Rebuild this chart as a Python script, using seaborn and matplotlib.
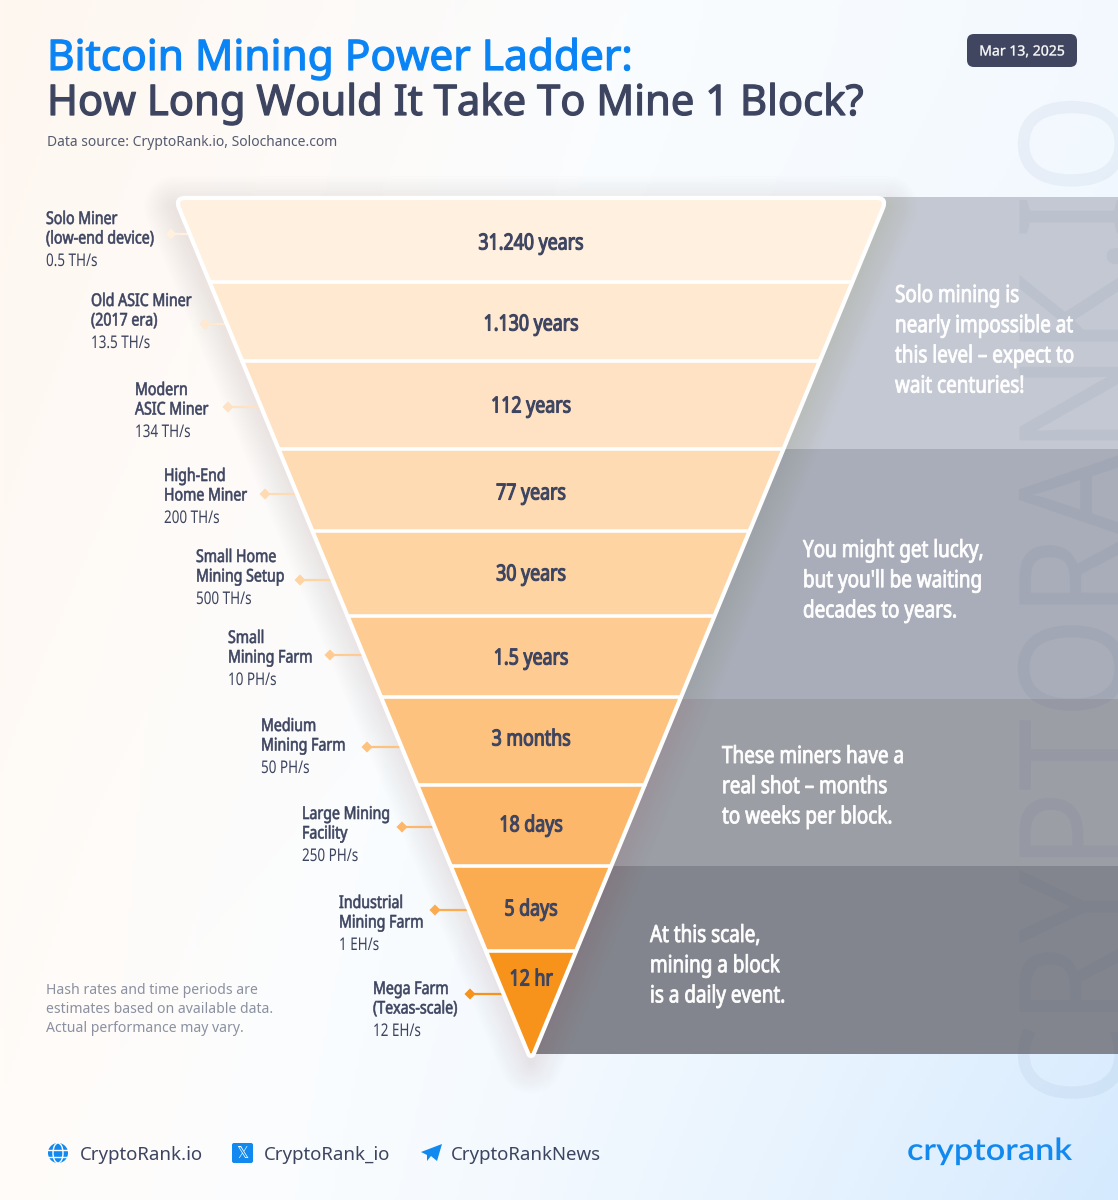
import numpy as np
import seaborn as sns
from matplotlib import pyplot as plt
from matplotlib import patheffects
from matplotlib.patches import Circle, Ellipse, FancyBboxPatch, PathPatch, Polygon
from matplotlib.path import Path
from matplotlib.transforms import Affine2D

# tiers, top of the funnel first
miners = ["Solo Miner\n(low-end device)", "Old ASIC Miner\n(2017 era)", "Modern\nASIC Miner",
          "High-End\nHome Miner", "Small Home\nMining Setup", "Small\nMining Farm",
          "Medium\nMining Farm", "Large Mining\nFacility", "Industrial\nMining Farm",
          "Mega Farm\n(Texas-scale)"]
hash_rates = ["0.5 TH/s", "13.5 TH/s", "134 TH/s", "200 TH/s", "500 TH/s",
              "10 PH/s", "50 PH/s", "250 PH/s", "1 EH/s", "12 EH/s"]
block_times = ["31.240 years", "1.130 years", "112 years", "77 years", "30 years",
               "1.5 years", "3 months", "18 days", "5 days", "12 hr"]
notes = ["Solo mining is\nnearly impossible at\nthis level – expect to\nwait centuries!",
         "You might get lucky,\nbut you'll be waiting\ndecades to years.",
         "These miners have a\nreal shot – months\nto weeks per block.",
         "At this scale,\nmining a block\nis a daily event."]
links = ["CryptoRank.io", "CryptoRank_io", "CryptoRankNews"]

# layout in pixels of the 1118x1200 canvas
tier_edges = [198, 282, 361, 449, 531, 616, 697, 785, 866, 951, 1054]
tier_colors = ["#FFF0DF", "#FFE9D1", "#FEE2C3", "#FEDBB3", "#FED4A3",
               "#FECC92", "#FDC27E", "#FDB76A", "#FCAC50", "#F7931A"]
time_y = [242, 323, 405, 492, 573, 657, 738, 824, 908, 978]
label_x = [46, 91, 135, 164, 196, 228, 261, 302, 339, 373]
label_y = [218, 300, 389, 475, 556, 637, 725, 813, 902, 988]
diamond_x = [171, 205, 228, 265, 300, 330, 367, 402, 435, 470]
diamond_y = [234, 324, 407, 494, 580, 655, 747, 827, 910, 994]
band_edges = [197, 449, 699, 866, 1054]
band_colors = ["#C4C8D2", "#A9ADB9", "#9C9EA6", "#82858D"]
note_x = [895, 803, 722, 650]
note_y = [294, 549, 755, 934]

CENTER = 531
TOP_HALF = 356
APEX = 1060
DARK = "#3D4460"
BLUE = "#0A84F5"


class Squeeze(patheffects.AbstractPathEffect):
    # the reference type is condensed and heavy, the Noto Sans installed here has neither
    def __init__(self, sx=1, center=False, bold=0):
        super().__init__()
        self.sx = sx
        self.center = center
        self.bold = bold

    def draw_path(self, renderer, gc, tpath, affine, rgbFace=None):
        mid = 0
        if self.center:
            ext = tpath.get_extents()
            mid = (ext.x0 + ext.x1) / 2
        squeeze = Affine2D().translate(-mid, 0).scale(self.sx, 1).translate(mid, 0)
        if self.bold:
            gc0 = renderer.new_gc()
            gc0.copy_properties(gc)
            gc0.set_linewidth(self.bold)
            gc0.set_foreground(rgbFace)
            renderer.draw_path(gc0, tpath, squeeze + affine, rgbFace)
            gc0.restore()
        else:
            renderer.draw_path(gc, tpath, squeeze + affine, rgbFace)


def half_width(y):
    return TOP_HALF * (APEX - np.asarray(y, dtype=float)) / (APEX - tier_edges[0])


def put_lines(ax, x, y, text, step, size, color, sx, bold=0):
    for i, line in enumerate(text.split("\n")):
        ax.text(x, y + i * step, line, fontsize=size, color=color, va="center", zorder=6,
                path_effects=[Squeeze(sx, bold=bold)])


sns.set_theme(style="white")
plt.rcParams["font.family"] = ["Noto Sans", "DejaVu Sans"]

fig, ax = plt.subplots(figsize=(11.18, 12), dpi=100)
fig.subplots_adjust(left=0, right=1, bottom=0, top=1)
ax.set_xlim(0, 1118)
ax.set_ylim(1200, 0)
ax.axis("off")

# soft page background
gx, gy = np.meshgrid(np.linspace(0, 1, 280), np.linspace(0, 1, 300))
cream = np.clip(1 - (gx + 0.35 * gy) / 0.6, 0, 1)
sky = np.clip(gx ** 1.6 * (0.3 + 0.7 * gy ** 1.5), 0, 1)
bg = np.ones(gx.shape + (3,))
bg[..., 0] -= sky * 42 / 255
bg[..., 1] -= cream * 8 / 255 + sky * 21 / 255
bg[..., 2] -= cream * 15 / 255 + sky * 1 / 255
ax.imshow(bg, extent=(0, 1118, 1200, 0), aspect="auto", zorder=0)

# grey bands behind the funnel
for i, color in enumerate(band_colors):
    ax.fill_between([CENTER, 1118], band_edges[i], band_edges[i + 1], color=color, lw=0, zorder=1)

# watermark
ax.text(1086, 600, "CRYPTORANK.IO", rotation=90, fontsize=106, color="#2F4F80", alpha=0.055,
        ha="center", va="center", zorder=2, clip_on=True, path_effects=[Squeeze(0.884, center=True)])

# funnel outline with rounded corners, shadow first
top = tier_edges[0]
tl = CENTER - TOP_HALF
tr = CENTER + TOP_HALF
outline = Path([(tl + 10, top), (tr - 10, top), (tr, top), (tr - 4, top + 10), (CENTER + 2.2, 1055),
                (CENTER, 1057), (CENTER - 2.2, 1055), (tl + 4, top + 10), (tl, top), (tl + 10, top), (tl + 10, top)],
               [Path.MOVETO, Path.LINETO, Path.CURVE3, Path.CURVE3, Path.LINETO,
                Path.CURVE3, Path.CURVE3, Path.LINETO, Path.CURVE3, Path.CURVE3, Path.CLOSEPOLY])
ax.add_patch(PathPatch(outline, fc="white", lw=0, zorder=2))
out_x = [tl, tr, CENTER, tl]
out_y = np.array([top, top, 1054, top]) + 9
for w in range(4, 48, 4):
    sns.lineplot(x=out_x, y=out_y, sort=False, estimator=None, ax=ax, color="#9A7A5A",
                 lw=w, alpha=0.010, zorder=2, solid_joinstyle="round", legend=False)

rim = PathPatch(outline, fc="none", ec="white", lw=3, zorder=4, joinstyle="round")
ax.add_patch(rim)
for i, color in enumerate(tier_colors):
    ys = np.array(tier_edges[i:i + 2], dtype=float)
    fill = ax.fill_betweenx(ys, CENTER - half_width(ys), CENTER + half_width(ys), color=color, lw=0, zorder=3)
    fill.set_clip_path(rim.get_path(), rim.get_transform())

# white separators
for y in tier_edges[1:-1]:
    sns.lineplot(x=[CENTER - half_width(y), CENTER + half_width(y)], y=[y, y], ax=ax, color="white",
                 lw=2.6, zorder=4, legend=False)

# leader lines with a diamond, and the left labels
for i in range(len(miners)):
    end = CENTER - half_width(diamond_y[i])
    sns.lineplot(x=[diamond_x[i], end], y=[diamond_y[i], diamond_y[i]], ax=ax, color=tier_colors[i],
                 lw=1.6, zorder=3, legend=False)
sns.scatterplot(x=diamond_x, y=diamond_y, hue=miners, palette=tier_colors, marker="D", s=32,
                linewidth=0, ax=ax, legend=False, zorder=5)

for i, name in enumerate(miners):
    put_lines(ax, label_x[i], label_y[i] + 1, name, 19.5, 12.6, DARK, 0.81, bold=0.45)
    put_lines(ax, label_x[i], label_y[i] + 43, hash_rates[i], 0, 12.6, DARK, 0.77)
    ax.text(CENTER, time_y[i] + 2, block_times[i], fontsize=16, color=DARK, ha="center", va="center",
            zorder=6, path_effects=[Squeeze(0.8, center=True, bold=0.8)])

for i, note in enumerate(notes):
    put_lines(ax, note_x[i], note_y[i] + 2, note, 30.2, 17, "white", 0.8, bold=0.6)

# header
ax.text(47, 59, "Bitcoin Mining Power Ladder:", fontsize=30.4, color=BLUE, va="center", zorder=6,
        path_effects=[Squeeze(1.004, bold=0.9)])
ax.text(47, 104, "How Long Would It Take To Mine 1 Block?", fontsize=30.4, color=DARK, va="center", zorder=6,
        path_effects=[Squeeze(0.989, bold=0.9)])
ax.text(47, 142, "Data source: CryptoRank.io, Solochance.com", fontsize=10, color="#555B70", va="center", zorder=6)
ax.add_patch(FancyBboxPatch((967, 34), 110, 33, boxstyle="round,pad=0,rounding_size=7", fc="#40465F", lw=0, zorder=5))
ax.text(1022, 52, "Mar 13, 2025", fontsize=10.1, color="white", ha="center", va="center", zorder=6,
        path_effects=[Squeeze(bold=0.25)])

# disclaimer
for i, line in enumerate(["Hash rates and time periods are", "estimates based on available data.",
                          "Actual performance may vary."]):
    ax.text(46, 990 + i * 19.5, line, fontsize=10.1, color="#8B91A1", va="center", zorder=6)

# footer icons and links
ax.add_patch(Circle((58, 1153), 10, fc="#1189EE", lw=0, zorder=5))
ax.add_patch(Ellipse((58, 1153), 10, 20, fc="none", ec="white", lw=1, zorder=6))
sns.lineplot(x=[48, 68], y=[1149.5, 1149.5], ax=ax, color="white", lw=1, zorder=6, legend=False)
sns.lineplot(x=[48, 68], y=[1156.5, 1156.5], ax=ax, color="white", lw=1, zorder=6, legend=False)
ax.add_patch(FancyBboxPatch((232, 1143), 21, 20, boxstyle="round,pad=0,rounding_size=2", fc="#1189EE", lw=0, zorder=5))
ax.text(242.5, 1153, "𝕏", fontsize=11, color="white", ha="center", va="center", zorder=6,
        family=["DejaVu Sans"])
ax.add_patch(Polygon([(421, 1152), (442, 1144), (437, 1161), (431, 1156), (427, 1161), (427, 1155)],
                     closed=True, fc="#1189EE", lw=0, zorder=5))
for x, link in zip([80, 264, 451], links):
    ax.text(x, 1155, link, fontsize=13.45, color=DARK, va="center", zorder=6)
ax.text(907, 1151, "cryptorank", fontsize=22, color="#1189EE", weight=600, va="center", zorder=6,
        family=["Lato", "DejaVu Sans"], path_effects=[Squeeze(1.12)])

fig.savefig("out.png", dpi=100)
